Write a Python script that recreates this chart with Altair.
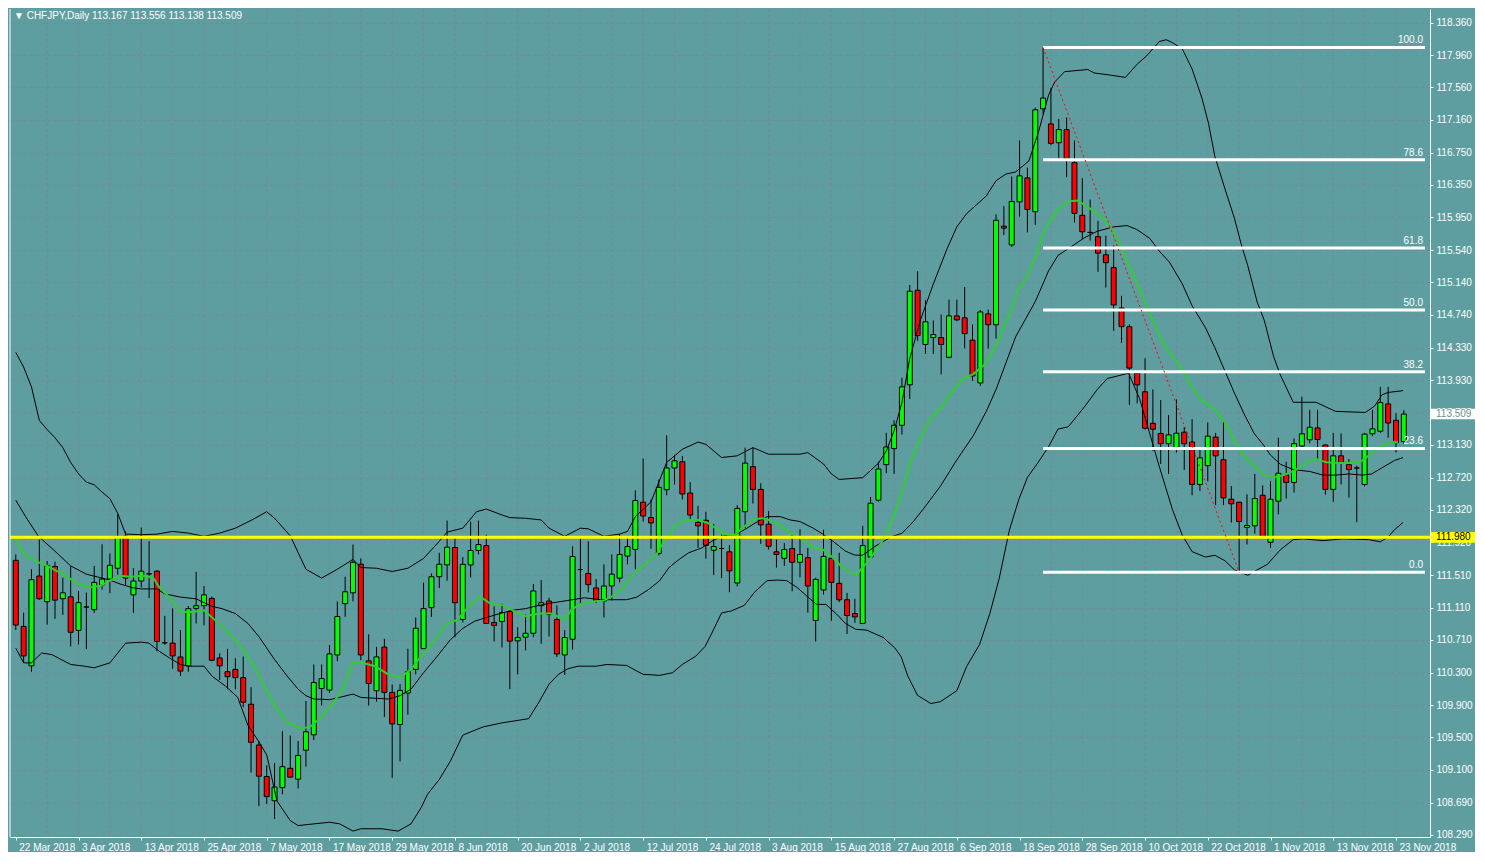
import altair as alt
import pandas as pd

# ---------------- data ----------------
opens = [111.695,110.876,110.387,111.500,111.182,111.618,111.219,111.243,110.827,111.117,
111.084,111.390,111.463,111.597,111.993,111.267,111.439,111.528,111.561,110.673,
110.669,110.497,110.387,111.100,111.133,111.223,110.485,110.314,110.343,110.241,
109.911,109.406,109.015,108.714,108.877,109.117,108.982,109.341,109.532,110.107,
110.087,110.522,111.158,111.292,111.647,110.449,110.078,110.620,110.058,109.659,
110.050,110.343,110.600,111.109,111.492,111.639,111.854,110.962,111.638,111.817,
111.878,110.925,110.937,111.060,110.697,110.742,110.791,111.133,111.190,110.962,
110.522,110.717,111.581,111.532,111.353,111.190,111.377,111.475,111.748,111.830,
112.416,112.225,111.781,112.571,112.840,112.917,112.530,112.164,112.192,111.821,
111.842,111.801,111.414,112.298,112.856,112.575,112.143,111.801,111.720,111.842,
111.671,111.728,110.950,111.328,111.720,111.410,111.206,111.035,110.913,111.736,
112.441,112.881,113.080,113.370,113.871,115.044,114.372,114.457,114.457,114.213,
114.726,114.702,114.425,113.895,114.751,114.616,115.838,115.606,116.140,116.437,
116.018,117.293,117.106,116.873,117.036,116.625,115.973,115.761,115.708,115.484,
115.325,114.824,114.592,114.017,113.785,113.394,113.268,113.141,113.080,113.284,
113.162,112.636,112.869,113.223,112.942,112.453,112.416,112.103,112.123,112.502,
111.919,112.429,112.755,112.661,113.113,113.190,113.337,113.125,112.575,112.991,
112.881,112.840,112.636,113.264,113.296,113.634,113.431,113.167]

highs = [111.769,111.047,111.585,111.952,111.687,111.679,111.479,111.622,111.316,111.296,
111.626,111.895,111.781,112.270,112.054,111.597,112.103,111.932,111.573,111.007,
111.100,110.831,111.129,111.553,111.377,111.247,110.542,110.599,110.481,110.502,
110.123,109.455,109.154,109.182,109.577,109.524,109.455,109.952,110.404,110.404,
110.645,111.186,111.492,111.891,111.720,110.779,110.624,110.722,110.156,110.160,
110.600,110.987,111.419,111.533,111.789,112.188,111.993,111.736,112.176,112.188,
112.013,111.125,111.157,111.068,110.864,111.023,111.402,111.451,111.231,111.137,
110.831,111.870,111.964,111.931,111.463,111.646,111.768,112.021,111.972,112.563,
112.958,112.449,112.697,113.247,113.003,112.991,112.665,112.371,112.298,112.147,
112.013,111.883,112.380,113.092,113.092,112.652,112.306,111.952,111.911,112.013,
112.082,111.850,111.480,112.074,111.952,111.789,111.292,111.218,112.123,112.481,
112.917,113.276,113.431,113.960,115.109,115.280,114.922,114.669,114.742,114.926,
114.926,115.085,114.620,114.799,114.803,115.985,116.087,116.454,116.902,116.564,
117.309,118.054,117.554,117.167,117.187,116.902,116.433,116.169,115.904,115.720,
115.598,114.975,114.620,114.050,114.201,113.814,113.683,113.496,113.691,113.349,
113.447,113.089,113.406,113.276,113.406,112.616,112.420,112.514,112.767,112.624,
112.677,113.215,112.918,113.207,113.724,113.561,113.561,113.133,113.276,113.268,
112.950,112.869,113.276,113.561,113.846,113.846,113.520,113.556]

lows = [110.831,110.424,110.314,111.206,110.897,110.970,111.019,110.628,110.652,110.595,
111.043,111.333,111.288,111.516,111.390,111.043,111.361,111.227,110.567,110.648,
110.351,110.261,110.314,110.913,110.889,110.444,110.212,110.098,110.098,109.874,
109.064,108.648,108.673,108.489,108.795,109.007,108.868,109.137,109.467,109.895,
110.050,110.445,110.995,111.186,110.457,109.895,109.944,109.752,108.999,109.202,
109.781,110.282,110.600,110.995,111.353,111.443,110.742,110.925,111.483,111.768,
110.905,110.689,110.615,110.098,110.281,110.579,110.742,110.660,110.750,110.497,
110.273,110.587,111.165,111.296,111.165,110.986,111.198,111.422,111.646,111.585,
112.176,111.838,111.756,112.502,112.636,112.449,112.184,111.850,111.715,111.512,
111.475,111.300,111.373,112.094,112.400,111.899,111.830,111.605,111.626,111.312,
111.483,111.047,110.689,111.271,110.945,111.178,110.782,110.921,110.905,111.720,
112.420,112.775,112.767,113.255,113.695,114.416,114.254,114.254,114.001,114.201,
114.661,114.323,113.920,113.858,114.319,114.445,115.728,115.580,115.957,115.761,
115.855,117.228,116.841,116.686,116.446,115.883,115.680,115.659,115.272,115.077,
114.539,114.392,113.622,113.643,113.317,113.052,112.889,112.767,113.031,112.816,
112.502,112.555,112.673,112.380,112.380,112.164,111.546,111.891,112.025,111.985,
111.850,112.266,112.461,112.535,113.072,113.146,112.942,112.510,112.420,112.637,
112.473,112.168,112.612,113.235,113.276,113.215,113.032,113.138]

closes = [110.893,110.510,111.455,111.219,111.630,111.202,111.292,110.803,111.170,111.117,
111.422,111.463,111.634,111.976,111.475,111.439,111.561,111.528,110.689,110.673,
110.510,110.322,111.096,111.133,111.267,110.457,110.387,110.253,110.241,109.935,
109.439,109.019,108.766,108.885,109.137,109.007,109.276,109.569,110.180,110.229,
110.535,110.999,111.305,111.671,110.522,110.168,110.498,110.058,109.667,110.082,
110.315,110.853,111.097,111.492,111.647,111.859,111.170,111.646,111.817,111.891,
110.913,110.888,111.047,110.693,110.738,110.791,111.316,111.170,111.023,110.534,
110.738,111.744,111.581,111.394,111.190,111.377,111.524,111.768,111.866,112.437,
112.245,112.160,112.600,112.840,112.929,112.518,112.257,112.123,111.882,111.866,
111.842,111.565,112.339,112.901,112.575,112.135,111.870,111.768,111.830,111.671,
111.768,111.377,111.459,111.744,111.422,111.206,111.011,110.994,111.878,112.404,
112.828,113.101,113.370,113.846,115.032,114.482,114.653,114.494,114.372,114.726,
114.677,114.506,113.981,114.775,114.616,115.912,115.814,116.144,116.462,116.046,
117.281,117.427,116.865,117.036,116.670,115.997,115.769,115.761,115.504,115.386,
114.861,114.592,114.079,113.871,113.333,113.321,113.141,113.251,113.272,113.141,
112.636,112.966,113.235,112.991,112.469,112.396,112.176,112.127,112.461,111.989,
112.453,112.775,112.661,113.142,113.264,113.345,113.194,112.575,112.991,112.909,
112.820,112.840,113.260,113.325,113.651,113.398,113.154,113.509]

# Bollinger upper / middle / lower and green moving average: (bar index, price)
bb_upper = [(0,114.274),(1,114.091),(2,113.846),(3,113.431),(4,113.317),(5,113.215),(6,113.092),
(7,112.909),(8,112.767),(9,112.665),(10,112.632),(11,112.542),(12,112.461),(13,112.278),(14,112.021),
(16,112.013),(18,112.020),(20,112.054),(22,112.033),(24,111.993),(26,112.033),(28,112.094),(30,112.190),
(32,112.298),(33,112.217),(35,112.000),(37,111.585),(39,111.475),(41,111.585),(43,111.707),(44,111.606),
(46,111.597),(48,111.557),(50,111.597),(52,111.719),(54,111.931),(55,112.045),(57,112.094),(58.75,112.298),
(60,112.331),(62,112.258),(63,112.225),(65,112.217),(67,112.196),(68,112.094),(70,111.993),(72,112.094),
(73,112.086),(75,111.993),(77,112.021),(78,112.054),(79,112.237),(81,112.420),(82,112.665),(83,112.909),
(85,113.072),(87,113.162),(88,113.133),(90,112.970),(92,112.991),(94,113.093),(96,113.011),(100,113.011),
(101,113.031),(103,112.890),(104,112.767),(105,112.698),(108,112.720),(110,112.900),(111,113.050),
(112,113.300),(113,113.650),(114,114.200),(115.4,114.685),(117,115.121),(118.75,115.557),(120,115.830),
(121.25,115.994),(122.5,116.103),(123.75,116.212),(125,116.402),(126.25,116.484),(127.5,116.511),
(129.2,116.648),(130.4,117.002),(131.7,117.465),(132.5,117.629),(133.75,117.754),(136.7,117.781),
(137.5,117.738),(139.6,117.711),(141.5,117.683),(143,117.847),(144.2,117.950),(145,118.037),
(145.8,118.127),(146.7,118.150),(147.5,118.114),(148.75,118.037),(150,117.788),(151.25,117.427),
(152.1,117.111),(152.9,116.704),(154.2,116.298),(155.4,115.936),(156.25,115.620),(157.1,115.349),
(158.3,114.897),(159.2,114.672),(160.4,114.220),(161.25,113.994),(162.9,113.655),(165.8,113.655),
(168.3,113.542),(172.1,113.529),(173.3,113.610),(174.2,113.746),(175,113.777),(176.25,113.791),(176.9,113.800)]

bb_middle = [(0,112.441),(1.25,112.237),(2.9,111.992),(5,111.809),(7,111.626),(9,111.524),(12,111.45),
(13.3,111.402),(15,111.353),(16,111.341),(18,111.341),(19,111.280),(21,111.239),(23,111.218),(25,111.125),
(26.3,111.096),(28,111.035),(29.6,110.913),(31,110.750),(33,110.465),(34.6,110.261),(36,110.098),
(37,110.017),(38,109.976),(40,109.968),(41.3,109.996),(43,110.037),(44,109.996),(46,109.984),
(47.5,109.976),(49,110.017),(50.4,110.098),(52,110.302),(53.75,110.506),(55.4,110.709),(57,110.852),
(58.5,110.94),(59.6,110.974),(61.7,111.035),(63.3,111.076),(65,111.096),(66.7,111.137),(68.3,111.166),
(70.4,111.198),(72.5,111.231),(74.6,111.207),(77.9,111.207),(79.2,111.239),(80.8,111.341),(82.1,111.443),
(83.3,111.606),(84.6,111.708),(85.8,111.789),(87.5,111.850),(88.75,111.932),(90,111.993),(91.7,112.013),
(92.9,112.074),(94.6,112.176),(95.8,112.237),(97.5,112.237),(98.75,112.196),(100,112.176),(101.7,112.094),
(102.9,112.021),(104.2,111.932),(105.8,111.809),(107,111.76),(108,111.76),(109.6,111.87),(111.7,111.99),
(113,112.03),(114.4,112.17),(115.8,112.341),(117.9,112.614),(120,112.941),(122.1,113.241),(123.75,113.541),
(125,113.813),(126.25,114.140),(127.5,114.467),(128.75,114.685),(130,114.903),(131.7,115.285),
(132.9,115.476),(134.6,115.585),(136.25,115.694),(137.9,115.775),(140,115.830),(141.7,115.846),
(142.9,115.80),(144.6,115.688),(145.8,115.530),(147.1,115.394),(148.75,115.123),(150,114.852),
(151.7,114.581),(152.9,114.333),(154.2,114.039),(155.4,113.768),(156.7,113.497),(157.9,113.271),
(159.2,113.113),(160,113.000),(161.25,112.887),(162.9,112.820),(165,112.797),(166.7,112.752),
(168.3,112.752),(170,112.766),(171.7,112.752),(172.9,112.766),(174.2,112.842),(175.8,112.933),(176.9,112.969)]

bb_lower = [(0,110.607),(1,110.424),(2,110.424),(3.3,110.546),(4.6,110.526),(7,110.404),(8.75,110.383),
(10,110.363),(12,110.424),(14,110.668),(16,110.681),(17,110.668),(18.3,110.567),(19.6,110.485),(21,110.404),
(22,110.383),(24,110.383),(25,110.261),(26.7,110.139),(28.3,109.996),(29.6,109.650),(31,109.446),
(32,109.283),(33.3,108.713),(35,108.468),(36,108.407),(40,108.448),(41.3,108.428),(43,108.338),
(44,108.367),(46.7,108.367),(48.75,108.338),(50.4,108.428),(51.7,108.631),(52.5,108.794),(54,108.978),
(55.4,109.202),(57,109.528),(59.6,109.630),(62,109.68),(65.4,109.732),(66.7,109.935),(68,110.159),
(69.2,110.282),(70.4,110.351),(71.7,110.383),(74,110.383),(75.4,110.404),(77.9,110.392),(79.2,110.322),
(80,110.282),(82.1,110.269),(83.75,110.302),(85,110.404),(86.7,110.506),(87.9,110.628),(88.75,110.791),
(90,111.043),(91.25,111.068),(92.9,111.137),(94.2,111.300),(95.8,111.443),(97.1,111.451),(98.3,111.443),
(99.6,111.361),(100.8,111.259),(102.1,111.149),(103.3,111.149),(104.6,111.035),(105.8,110.913),
(107.1,110.84),(108.5,110.83),(110.6,110.74),(112.1,110.608),(112.9,110.50),(113.75,110.261),
(115,110.02),(116.7,109.92),(117.9,109.943),(120,110.079),(121.25,110.379),(122.9,110.652),
(124.2,111.033),(125.4,111.469),(126.7,112.069),(127.9,112.450),(129,112.723),(130.4,112.914),
(131.7,113.105),(132.9,113.323),(134.2,113.350),(136.25,113.595),(137.9,113.813),(139.2,113.950),
(141.9,114.015),(143.3,113.701),(145.8,112.865),(147.5,112.323),(148.75,112.007),(150,111.803),
(151.7,111.736),(152.9,111.758),(154.2,111.690),(155.4,111.577),(157.1,111.510),(158.3,111.577),
(159.6,111.645),(161.25,111.826),(162.9,111.952),(164.2,111.961),(166.7,111.939),(169.2,111.961),
(172.5,111.952),(174,111.925),(175,111.984),(175.8,112.074),(176.9,112.165)]

green_ma = [(0,111.972),(1,111.768),(3,111.667),(4,111.626),(6,111.524),(8,111.402),(9.6,111.361),
(10.8,111.381),(12,111.443),(13.3,111.504),(14.6,111.491),(16.25,111.504),(17.5,111.483),(18.3,111.361),
(19.6,111.239),(21,111.055),(22.5,111.055),(24,111.076),(25.4,110.954),(27,110.811),(28.75,110.628),
(30.4,110.383),(31.7,110.139),(33,109.894),(34.6,109.691),(36.3,109.609),(37.5,109.630),(38.75,109.732),
(40.4,109.915),(41.7,110.098),(43,110.424),(44.2,110.424),(45.8,110.383),(47.5,110.281),(49,110.241),
(50.4,110.343),(52,110.546),(53.75,110.750),(55,110.913),(56.25,110.954),(58,111.15),(59.2,111.247),
(60.4,111.166),(62.1,111.137),(63.75,111.056),(65,111.003),(66.7,111.035),(68.3,111.035),(69.6,110.974),
(70,110.954),(70.8,111.076),(71.7,111.137),(72.9,111.178),(75,111.198),(76.25,111.259),(77.5,111.361),
(78.75,111.524),(80,111.626),(81.7,111.769),(82.9,111.972),(84.2,112.135),(85.4,112.196),(87.1,112.196),
(88.3,112.156),(89.6,112.074),(90.8,112.013),(91.7,112.013),(92.9,112.115),(94.2,112.209),(95.4,112.217),
(97.1,112.156),(98.75,112.033),(100,111.972),(101.7,111.850),(102.9,111.830),(104.2,111.728),
(105.4,111.606),(107.1,111.51),(108.75,111.687),(110.4,111.92),(111.7,112.17),(112.9,112.52),
(114.2,112.94),(115.4,113.22),(116.7,113.46),(117.9,113.58),(119.2,113.759),(120.8,113.949),
(122.1,114.004),(123.75,114.140),(125,114.358),(126.7,114.740),(127.9,115.067),(128.75,115.176),
(130,115.448),(131.25,115.803),(132.9,116.048),(134.2,116.146),(135.4,116.157),(136.7,116.075),
(138.3,115.966),(139.6,115.830),(140.8,115.612),(142.5,115.230),(143.5,115.02),(144.2,114.852),
(145.4,114.581),(146.25,114.401),(147.5,114.220),(148.75,114.062),(150,113.836),(151.25,113.678),
(152.9,113.565),(154.2,113.407),(155.4,113.181),(156.7,112.978),(157.9,112.865),(159.2,112.752),
(160.4,112.720),(161.7,112.752),(163.3,112.820),(164.6,112.910),(165.8,112.955),(167.1,112.910),
(168.75,112.901),(170.4,112.901),(171.7,112.933),(172.9,113.023),(174.2,113.113),(175.4,113.158),(176.25,113.158)]

fib_labels = ["100.0", "78.6", "61.8", "50.0", "38.2", "23.6", "0.0"]
fib_prices = [118.054, 116.661, 115.568, 114.800, 114.032, 113.082, 111.546]
fib_start = 131
trend_idx = [131, 156]
trend_price = [118.054, 111.546]
hline_price = 111.980
bid_price = 113.509

date_labels = ["22 Mar 2018", "3 Apr 2018", "13 Apr 2018", "25 Apr 2018", "7 May 2018",
               "17 May 2018", "29 May 2018", "8 Jun 2018", "20 Jun 2018", "2 Jul 2018",
               "12 Jul 2018", "24 Jul 2018", "3 Aug 2018", "15 Aug 2018", "27 Aug 2018",
               "6 Sep 2018", "18 Sep 2018", "28 Sep 2018", "10 Oct 2018", "22 Oct 2018",
               "1 Nov 2018", "13 Nov 2018", "23 Nov 2018"]
label_idx = list(range(0, 177, 8))
vgrid_idx = list(range(4, 177, 4))
y_ticks = [118.360, 117.960, 117.560, 117.160, 116.750, 116.350, 115.950, 115.540, 115.140,
           114.740, 114.330, 113.930, 113.530, 113.130, 112.720, 112.320, 111.920, 111.510,
           111.110, 110.710, 110.300, 109.900, 109.500, 109.100, 108.690, 108.290]
title_text = "\u25BC CHFJPY,Daily  113.167 113.556 113.138 113.509"

# ---------------- layout / style ----------------
W, H = 1420, 828
X_MIN, X_MAX = -0.1, 179.7
Y_MIN, Y_MAX = 108.265, 118.531
BG = "#5F9EA0"
GRID = "#778899"
FONT = "Liberation Sans"
BOX_HALF = 0.066

xs = alt.Scale(domain=[X_MIN, X_MAX], nice=False, zero=False)
ys = alt.Scale(domain=[Y_MIN, Y_MAX], nice=False, zero=False)

n = len(opens)
candles = pd.DataFrame({"i": list(range(n)), "open": opens, "high": highs,
                        "low": lows, "close": closes})
candles["dir"] = ["up" if c > o else ("down" if c < o else "flat")
                  for o, c in zip(opens, closes)]

rows = []
for name, pts in [("upper", bb_upper), ("middle", bb_middle), ("lower", bb_lower)]:
    for xv, yv in pts:
        rows.append({"series": name, "i": xv, "v": yv})
bands = pd.DataFrame(rows)
green = pd.DataFrame({"i": [p[0] for p in green_ma], "v": [p[1] for p in green_ma]})

fib = pd.DataFrame({"label": fib_labels, "p": fib_prices,
                    "x1": [fib_start] * len(fib_prices), "x2": [X_MAX] * len(fib_prices)})
trend = pd.DataFrame({"i": trend_idx, "p": trend_price})
vgrid = pd.DataFrame({"g": vgrid_idx})
boxes = pd.DataFrame({
    "p": [hline_price, bid_price],
    "lo": [hline_price - BOX_HALF, bid_price - BOX_HALF],
    "hi": [hline_price + BOX_HALF, bid_price + BOX_HALF],
    "txt": [f"{hline_price:.3f}", f"{bid_price:.3f}"],
    "bg": ["#FFFF00", "#FFFFFF"],
    "fg": ["#000000", "#6E8E8E"],
})

label_js = "[" + ",".join("'" + d + "'" for d in date_labels) + "]"
x_axis = alt.Axis(values=label_idx, labelExpr=label_js + "[round(datum.value/8)]",
                  labelAlign="left", labelOffset=3, labelFlush=False, labelOverlap=False,
                  labelColor="white", labelFont=FONT, labelFontSize=10, labelPadding=2,
                  tickColor="white", tickSize=3, domainColor="white", grid=False, title=None)
y_axis = alt.Axis(orient="right", values=y_ticks, format=".3f", labelColor="white",
                  labelFont=FONT, labelFontSize=10, labelPadding=3, labelOverlap=False,
                  labelFlush=False, tickColor="white", tickSize=3, domainColor="white",
                  grid=True, gridColor=GRID, gridDash=[3, 3], gridOpacity=1, title=None)

# every layer uses the same axis definitions so that they merge into one axis
def X(f):
    return alt.X(f, scale=xs, axis=x_axis, title=None)

def Y(f):
    return alt.Y(f, scale=ys, axis=y_axis, title=None)

vgrid_l = alt.Chart(vgrid).mark_rule(color=GRID, strokeDash=[3, 3], strokeWidth=1).encode(
    x=X("g:Q"))

wicks = alt.Chart(candles).mark_rule(color="black", strokeWidth=1, clip=True).encode(
    x=X("i:Q"), y=Y("low:Q"), y2="high:Q")

bodies = alt.Chart(candles).mark_bar(size=5, stroke="black", strokeWidth=1, clip=True).encode(
    x=X("i:Q"), y=Y("open:Q"), y2="close:Q",
    color=alt.Color("dir:N", legend=None,
                    scale=alt.Scale(domain=["up", "down", "flat"],
                                    range=["#00FF00", "#FF0000", "#000000"])))

band_l = alt.Chart(bands).mark_line(color="black", strokeWidth=1, clip=True).encode(
    x=X("i:Q"), y=Y("v:Q"), detail="series:N")

green_l = alt.Chart(green).mark_line(color="#32CD32", strokeWidth=2, clip=True).encode(
    x=X("i:Q"), y=Y("v:Q"))

hline = alt.Chart(pd.DataFrame({"p": [hline_price]})).mark_rule(
    color="#FFFF00", strokeWidth=3).encode(y=Y("p:Q"))

fib_l = alt.Chart(fib).mark_rule(color="white", strokeWidth=3).encode(
    x=X("x1:Q"), x2="x2:Q", y=Y("p:Q"))

fib_t = alt.Chart(fib).mark_text(align="right", baseline="bottom", dx=-2, dy=-2,
                                 color="white", font=FONT, fontSize=10).encode(
    x=X("x2:Q"), y=Y("p:Q"), text="label:N")

trend_l = alt.Chart(trend).mark_line(color="#FF0000", strokeDash=[2, 3], strokeWidth=1).encode(
    x=X("i:Q"), y=Y("p:Q"))

box_r = alt.Chart(boxes).mark_rect().encode(
    x=alt.value(W + 1), x2=alt.value(W + 45), y=Y("lo:Q"), y2="hi:Q",
    color=alt.Color("bg:N", scale=None))

box_t = alt.Chart(boxes).mark_text(align="left", baseline="middle", font=FONT, fontSize=10).encode(
    x=alt.value(W + 6), y=Y("p:Q"), text="txt:N", color=alt.Color("fg:N", scale=None))

title_l = alt.Chart(pd.DataFrame({"t": [title_text]})).mark_text(
    align="left", baseline="middle", color="white", font=FONT, fontSize=10).encode(
    x=alt.value(4), y=alt.value(7), text="t:N")

left_border = alt.Chart(pd.DataFrame({"a": [0]})).mark_rule(color="white", strokeWidth=1).encode(
    x=alt.value(0), y=alt.value(0), y2=alt.value(H))

chart = alt.layer(
    vgrid_l, wicks, bodies, band_l, green_l, hline, fib_l, trend_l, fib_t,
    box_r, box_t, title_l, left_border
).properties(width=W, height=H, background=BG, padding=0).configure_view(stroke=None)

chart.save("out.html", embed_options={"renderer": "svg", "actions": False})
